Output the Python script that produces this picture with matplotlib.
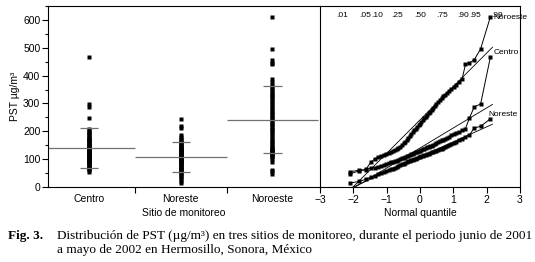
import numpy as np
import matplotlib.pyplot as plt
from matplotlib.ticker import MultipleLocator
from statistics import NormalDist

plt.rcParams['font.family'] = ['Liberation Sans', 'DejaVu Sans']

# sorted PST values per site (ug/m3)
sites = ['Centro', 'Noreste', 'Noroeste']
centro = [55, 60, 63, 67, 70, 73, 76, 79, 82, 85,
          88, 90, 93, 95, 98, 100, 103, 105, 108, 110,
          112, 115, 117, 119, 121, 124, 126, 128, 130, 132,
          135, 137, 139, 142, 144, 147, 149, 152, 155, 158,
          161, 164, 167, 170, 173, 177, 181, 185, 189, 193,
          198, 203, 210, 248, 288, 298, 468]
noreste = [14, 20, 28, 35, 40, 45, 49, 53, 57, 60,
           63, 66, 69, 72, 75, 78, 81, 84, 87, 90,
           92, 94, 96, 98, 100, 102, 104, 106, 108, 110,
           112, 114, 116, 118, 120, 122, 124, 126, 128, 130,
           132, 135, 138, 141, 144, 147, 150, 154, 158, 163,
           168, 174, 180, 187, 212, 218, 245]
noroeste = [47, 58, 62, 88, 100, 107, 112, 116, 120, 123,
            126, 129, 132, 136, 140, 145, 151, 157, 163, 169,
            176, 183, 190, 197, 204, 210, 216, 222, 228, 234,
            240, 246, 252, 258, 264, 270, 277, 284, 291, 298,
            305, 312, 319, 326, 332, 338, 344, 352, 360, 368,
            376, 388, 440, 445, 457, 496, 612]
# mean and standard deviation lines as drawn
means = [140, 108, 241]
sds = [72, 54, 120]
prob_labels = ['.01', '.05', '.10', '.25', '.50', '.75', '.90', '.95', '.99']
probs = [0.01, 0.05, 0.10, 0.25, 0.50, 0.75, 0.90, 0.95, 0.99]

data = [centro, noreste, noroeste]
nd = NormalDist()

W, H = 535, 262
fig = plt.figure(figsize=(W / 100, H / 100), dpi=100)
ax1 = fig.add_axes([48 / W, 1 - 187 / H, 272 / W, 181 / H])
ax2 = fig.add_axes([320 / W, 1 - 187 / H, 200 / W, 181 / H])

# left: points per site with mean and +-sd lines
for k, vals in enumerate(data):
    ax1.plot([k] * len(vals), vals, 's', ms=3.5, color='black', mec='none')
    ax1.hlines(means[k], k - 0.5, k + 0.5, color='#707070', lw=0.9)
    ax1.hlines([means[k] - sds[k], means[k] + sds[k]], k - 0.1, k + 0.1,
               color='#707070', lw=0.9)

ax1.set_xlim(-0.45, 2.52)
ax1.set_ylim(0, 650)
ax1.set_xticks([0, 1, 2])
ax1.set_xticklabels(sites)
ax1.set_xticks([0.5, 1.5], minor=True)
ax1.yaxis.set_major_locator(MultipleLocator(100))
ax1.yaxis.set_minor_locator(MultipleLocator(50))
ax1.tick_params(axis='x', which='major', length=0, labelsize=7.5, pad=5)
ax1.tick_params(axis='x', which='minor', length=4, width=0.8)
ax1.tick_params(axis='y', which='major', length=4, width=0.8, labelsize=7.5, pad=1.5)
ax1.tick_params(axis='y', which='minor', length=2, width=0.8)
ax1.spines['right'].set_visible(False)
for s in ['left', 'bottom', 'top']:
    ax1.spines[s].set_linewidth(0.8)
ax1.set_xlabel('Sitio de monitoreo', fontsize=7.5, labelpad=3)
ax1.set_ylabel('PST µg/m³', fontsize=7.5, labelpad=2)

# right: normal quantile plots with fitted lines
for k, vals in enumerate(data):
    n = len(vals)
    z = np.array([nd.inv_cdf(i / (n + 1)) for i in range(1, n + 1)])
    ax2.plot(z, vals, '-s', ms=2.6, lw=0.7, color='black', mec='none')
    zz = np.array([z[0], z[-1] + 0.06])
    ax2.plot(zz, means[k] + sds[k] * zz, color='black', lw=0.6)

ax2.annotate('Noroeste', (nd.inv_cdf(57 / 58), noroeste[-1]), xytext=(2, -1),
             textcoords='offset points', fontsize=6, va='center', ha='left',
             annotation_clip=False)
ax2.annotate('Centro', (nd.inv_cdf(57 / 58), centro[-1]), xytext=(2, 3),
             textcoords='offset points', fontsize=6, va='center', ha='left')
ax2.annotate('Noreste', (nd.inv_cdf(57 / 58), noreste[-1]), xytext=(-1.5, 3),
             textcoords='offset points', fontsize=6, va='center', ha='left')

for p, lab in zip(probs, prob_labels):
    ax2.text(nd.inv_cdf(p), 0.95, lab, transform=ax2.get_xaxis_transform(),
             fontsize=6, ha='center', va='center')

ax2.set_xlim(-3, 3)
ax2.set_ylim(0, 650)
ax2.set_xticks([-3, -2, -1, 0, 1, 2, 3])
ax2.set_xticklabels(['\u22123', '\u22122', '\u22121', '0', '1', '2', '3'])
ax2.set_yticks([])
ax2.tick_params(axis='x', length=4, width=0.8, labelsize=7.5, pad=2)
for s in ax2.spines.values():
    s.set_linewidth(0.8)
ax2.set_xlabel('Normal quantile', fontsize=7.5, labelpad=2)

# caption
serif = ['Liberation Serif', 'DejaVu Serif']
fig.text(8 / W, 1 - 236 / H, 'Fig. 3.', family=serif, fontweight='bold',
         fontsize=9.5, va='center')
fig.text(57 / W, 1 - 236 / H,
         'Distribución de PST (µg/m³) en tres sitios de monitoreo, durante el periodo junio de 2001',
         family=serif, fontsize=9.5, va='center')
fig.text(57 / W, 1 - 250 / H, 'a mayo de 2002 en Hermosillo, Sonora, México',
         family=serif, fontsize=9.5, va='center')

fig.savefig('out.png', dpi=100)
